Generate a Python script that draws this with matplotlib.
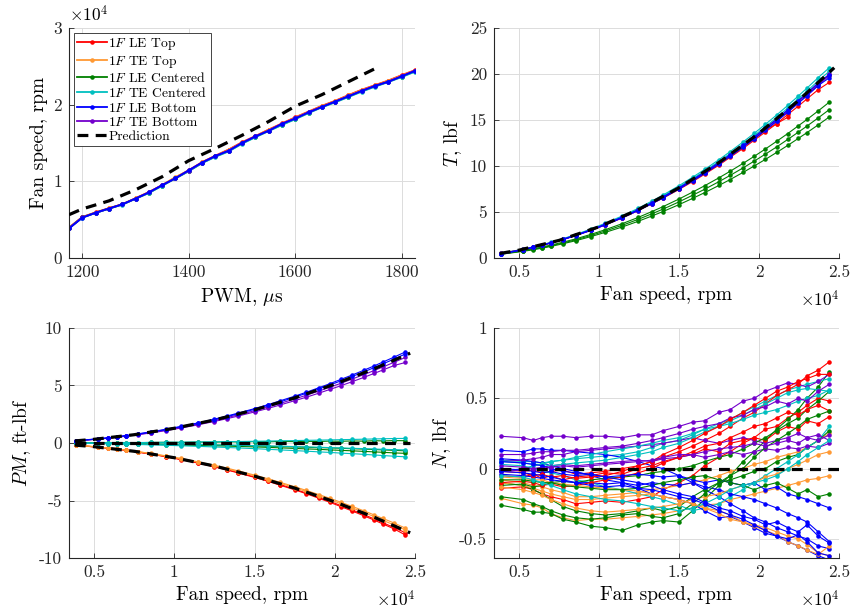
import matplotlib
matplotlib.use("Agg")
import matplotlib.pyplot as plt
from matplotlib.ticker import FuncFormatter

# 字型設定 (Computer Modern)
plt.rcParams['font.family'] = 'cmr10'
plt.rcParams['mathtext.fontset'] = 'cm'
plt.rcParams['axes.unicode_minus'] = False

# 顏色
c_red = '#ff0000'
c_orange = '#ff9933'
c_green = '#008000'
c_cyan = '#00bfbf'
c_blue = '#0000ff'
c_purple = '#7300cc'

names = ['$1F$ LE Top', '$1F$ TE Top', '$1F$ LE Centered',
         '$1F$ TE Centered', '$1F$ LE Bottom', '$1F$ TE Bottom']

# ---- 資料: 轉速 vs PWM ----
pwm = [1175, 1200, 1225, 1250, 1275, 1300, 1325, 1350, 1375, 1400, 1425, 1450, 1475, 1500,
       1525, 1550, 1575, 1600, 1625, 1650, 1675, 1700, 1725, 1750, 1775, 1800, 1825]
spd_le_top = [3950, 5350, 5950, 6500, 7000, 7800, 8600, 9500, 10500, 11450, 12500, 13350, 14150, 15100,
              15900, 16750, 17550, 18350, 19100, 19850, 20500, 21250, 21950, 22550, 23150, 23850, 24500]
spd_te_top = [3980, 5320, 5930, 6480, 7020, 7780, 8580, 9520, 10550, 11400, 12480, 13300, 14100, 15050,
              15850, 16700, 17500, 18300, 19050, 19800, 20450, 21200, 21900, 22500, 23100, 23800, 24450]
spd_le_cen = [3900, 5300, 5900, 6450, 6980, 7750, 8500, 9450, 10400, 11350, 12400, 13250, 13950, 14950,
              15800, 16600, 17400, 18150, 18950, 19700, 20350, 21050, 21750, 22400, 23000, 23650, 24350]
spd_te_cen = [3880, 5280, 5880, 6430, 6960, 7720, 8480, 9420, 10380, 11320, 12380, 13200, 13900, 14900,
              15750, 16550, 17350, 18100, 18900, 19650, 20300, 21000, 21700, 22350, 22950, 23600, 24300]
spd_le_bot = [3850, 5250, 5900, 6450, 7000, 7750, 8550, 9500, 10400, 11450, 12450, 13300, 14000, 15000,
              15850, 16600, 17500, 18200, 19000, 19700, 20400, 21100, 21800, 22450, 23000, 23700, 24400]
spd_te_bot = [3900, 5300, 5900, 6450, 7000, 7750, 8550, 9500, 10400, 11400, 12450, 13300, 14000, 15000,
              15850, 16600, 17500, 18200, 19000, 19700, 20400, 21100, 21800, 22450, 23000, 23700, 24450]
pwm_pred = [1175, 1200, 1250, 1300, 1350, 1400, 1450, 1500, 1550, 1600, 1650, 1700, 1750]
spd_pred = [5650, 6400, 7450, 8900, 10600, 12700, 14300, 16000, 17800, 19800, 21300, 23000, 24700]

# ---- 其他圖共用的轉速 ----
rpm = [3850, 5250, 5900, 6450, 7000, 7750, 8550, 9500, 10400, 11450, 12450, 13300, 14000, 15000,
       15850, 16600, 17500, 18200, 19000, 19700, 20400, 21100, 21800, 22450, 23000, 23700, 24400]
rpm_pred = [3800, 5000, 7500, 10000, 12500, 15000, 17500, 20000, 22500, 24700]

# 推力 T
T_red = [[0.45, 0.9, 1.15, 1.4, 1.62, 2.0, 2.45, 3.0, 3.6, 4.35, 5.15, 5.9, 6.5, 7.45, 8.3, 9.1, 10.1,
          10.95, 11.9, 12.8, 13.7, 14.6, 15.6, 16.5, 17.3, 18.3, 19.1],
         [0.5, 0.92, 1.17, 1.4, 1.65, 2.02, 2.46, 3.04, 3.64, 4.4, 5.2, 5.95, 6.58, 7.55, 8.42, 9.2, 10.2,
          11.05, 12.05, 12.95, 13.9, 14.6, 15.3]]
T_orange = [[0.48, 0.93, 1.2, 1.43, 1.68, 2.06, 2.5, 3.1, 3.7, 4.48, 5.3, 6.05, 6.7, 7.7, 8.6, 9.42, 10.45,
             11.3, 12.3, 13.2, 14.15, 15.1, 16.1, 17.05, 17.9, 19.0, 20.0],
            [0.5, 0.95, 1.2, 1.42, 1.67, 2.05, 2.49, 3.07, 3.68, 4.45, 5.27, 6.02, 6.66, 7.66, 8.55, 9.37, 10.4,
             11.25, 12.27, 13.18, 14.1, 15.05, 16.05, 17.0, 17.85, 18.9, 19.8]]
T_green = [[0.45, 0.8, 1.0, 1.2, 1.4, 1.72, 2.08, 2.57, 3.08, 3.73, 4.41, 5.04, 5.58, 6.41, 7.16, 7.85, 8.72,
            9.43, 10.28, 11.05, 11.85, 12.68, 13.53, 14.36, 15.06, 15.99, 16.95],
           [0.42, 0.76, 0.95, 1.13, 1.33, 1.63, 1.98, 2.45, 2.94, 3.55, 4.2, 4.8, 5.31, 6.1, 6.82, 7.47, 8.3,
            8.98, 9.79, 10.53, 11.29, 12.07, 12.89, 13.67, 14.34, 15.23, 16.14],
           [0.4, 0.72, 0.9, 1.07, 1.26, 1.55, 1.88, 2.33, 2.79, 3.37, 3.99, 4.56, 5.05, 5.8, 6.48, 7.1, 7.89,
            8.53, 9.3, 10.0, 10.72, 11.47, 12.24, 12.99, 13.63, 14.47, 15.34]]
T_cyan = [[0.5, 0.95, 1.22, 1.45, 1.7, 2.1, 2.55, 3.15, 3.78, 4.57, 5.4, 6.18, 6.84, 7.86, 8.78, 9.62, 10.69,
           11.57, 12.61, 13.55, 14.53, 15.54, 16.59, 17.6, 18.47, 19.61, 20.7],
          [0.48, 0.93, 1.19, 1.42, 1.68, 2.06, 2.51, 3.09, 3.71, 4.49, 5.31, 6.07, 6.72, 7.72, 8.62, 9.45, 10.5,
           11.36, 12.38, 13.31, 14.27, 15.26, 16.3, 17.29, 18.14, 19.26, 20.3]]
T_blue = [[0.45, 0.92, 1.18, 1.4, 1.66, 2.04, 2.48, 3.06, 3.67, 4.44, 5.25, 6.0, 6.64, 7.63, 8.52, 9.34, 10.38,
           11.23, 12.24, 13.16, 14.11, 15.09, 16.11, 17.09, 17.93, 19.04, 19.9],
          [0.4, 0.9, 1.15, 1.38, 1.63, 2.0, 2.44, 3.0, 3.6, 4.36, 5.16, 5.9, 6.53, 7.5, 8.38, 9.19, 10.21,
           11.05, 12.04, 12.95, 13.88, 14.85, 15.85, 16.82, 17.65, 18.74, 19.6]]
T_purple = [[0.47, 0.91, 1.16, 1.39, 1.64, 2.01, 2.45, 3.02, 3.62, 4.38, 5.18, 5.92, 6.55, 7.53, 8.4, 9.2, 10.22,
             11.06, 12.05, 12.96, 13.9, 14.86, 15.87, 16.83, 17.66, 18.75, 19.85],
            [0.49, 0.93, 1.18, 1.41, 1.66, 2.03, 2.47, 3.05, 3.65, 4.42, 5.22, 5.97, 6.6, 7.58, 8.47, 9.28, 10.32,
             11.16, 12.16, 13.08, 14.02, 15.0, 16.01, 16.98, 17.82, 18.92, 20.0]]
T_pred = [0.49, 0.85, 1.91, 3.39, 5.3, 7.63, 10.38, 13.56, 17.16, 20.68]

# 俯仰力矩 PM
PM_red = [[-0.2, -0.37, -0.46, -0.55, -0.65, -0.8, -0.97, -1.2, -1.44, -1.74, -2.06, -2.35, -2.61, -2.99,
           -3.34, -3.67, -4.07, -4.4, -4.8, -5.16, -5.54, -5.92, -6.32, -6.7, -7.04, -7.47, -8.0],
          [-0.19, -0.36, -0.45, -0.54, -0.64, -0.79, -0.96, -1.18, -1.42, -1.72, -2.03, -2.32, -2.57, -2.95,
           -3.29, -3.61, -4.01, -4.34, -4.73, -5.08, -5.45, -5.83, -6.22, -6.6, -6.93, -7.36, -7.8]]
PM_orange = [[-0.19, -0.35, -0.44, -0.53, -0.62, -0.76, -0.93, -1.15, -1.37, -1.66, -1.97, -2.25, -2.49, -2.86,
              -3.19, -3.5, -3.89, -4.21, -4.58, -4.93, -5.29, -5.65, -6.03, -6.4, -6.72, -7.13, -7.56],
             [-0.18, -0.34, -0.43, -0.52, -0.61, -0.75, -0.91, -1.12, -1.34, -1.63, -1.92, -2.19, -2.43, -2.79,
              -3.11, -3.42, -3.8, -4.11, -4.48, -4.81, -5.16, -5.52, -5.89, -6.25, -6.56, -6.96, -7.4]]
PM_green = [[0.0, 0.02, 0.03, 0.02, 0.04, 0.03, 0.05, 0.06, 0.05, 0.08, 0.07, 0.1, 0.09, 0.12, 0.1, 0.14,
             0.12, 0.15, 0.13, 0.17, 0.15, 0.18, 0.16, 0.2, 0.18, 0.21, 0.2],
            [0.0, -0.02, -0.03, -0.04, -0.05, -0.07, -0.08, -0.1, -0.12, -0.15, -0.17, -0.2, -0.22, -0.25,
             -0.28, -0.31, -0.34, -0.37, -0.4, -0.43, -0.46, -0.5, -0.53, -0.57, -0.6, -0.64, -0.68],
            [-0.02, -0.04, -0.05, -0.06, -0.08, -0.1, -0.12, -0.15, -0.18, -0.21, -0.24, -0.27, -0.3, -0.34,
             -0.38, -0.42, -0.47, -0.51, -0.55, -0.6, -0.64, -0.68, -0.73, -0.77, -0.81, -0.86, -0.9]]
PM_cyan = [[0.0, -0.04, -0.06, -0.08, -0.1, -0.13, -0.16, -0.2, -0.24, -0.29, -0.34, -0.39, -0.43, -0.49,
            -0.55, -0.6, -0.66, -0.71, -0.77, -0.82, -0.88, -0.93, -0.99, -1.04, -1.09, -1.15, -1.2],
           [0.0, 0.01, 0.02, 0.02, 0.03, 0.04, 0.05, 0.06, 0.07, 0.09, 0.1, 0.12, 0.13, 0.15, 0.17, 0.19,
            0.21, 0.23, 0.25, 0.27, 0.29, 0.31, 0.33, 0.35, 0.37, 0.39, 0.4],
           [-0.03, -0.03, -0.04, -0.05, -0.06, -0.07, -0.09, -0.1, -0.12, -0.14, -0.16, -0.18, -0.2, -0.23,
            -0.25, -0.28, -0.31, -0.34, -0.37, -0.4, -0.43, -0.46, -0.49, -0.52, -0.55, -0.58, -0.6]]
PM_blue = [[0.2, 0.37, 0.46, 0.55, 0.65, 0.8, 0.97, 1.2, 1.44, 1.74, 2.06, 2.35, 2.61, 2.99, 3.34, 3.67,
            4.07, 4.4, 4.8, 5.16, 5.54, 5.92, 6.32, 6.7, 7.04, 7.47, 7.92],
           [0.19, 0.36, 0.45, 0.54, 0.64, 0.78, 0.95, 1.17, 1.41, 1.7, 2.02, 2.3, 2.55, 2.93, 3.27, 3.58,
            3.98, 4.31, 4.69, 5.05, 5.41, 5.79, 6.18, 6.55, 6.88, 7.3, 7.74]]
PM_purple = [[0.18, 0.35, 0.43, 0.52, 0.61, 0.75, 0.91, 1.13, 1.35, 1.64, 1.94, 2.21, 2.45, 2.81, 3.14, 3.45,
              3.83, 4.14, 4.51, 4.85, 5.2, 5.57, 5.94, 6.3, 6.61, 7.02, 7.44],
             [0.17, 0.33, 0.42, 0.5, 0.59, 0.72, 0.88, 1.08, 1.3, 1.57, 1.86, 2.12, 2.35, 2.7, 3.01, 3.31,
              3.68, 3.97, 4.33, 4.66, 4.99, 5.34, 5.7, 6.05, 6.35, 6.74, 7.0]]
PM_pred_pos = [0.18, 0.32, 0.72, 1.28, 2.0, 2.88, 3.92, 5.12, 6.48, 7.81]
PM_pred_zero = [0, 0, 0, 0, 0, 0, 0, 0, 0, 0]
PM_pred_neg = [-0.18, -0.32, -0.72, -1.28, -2.0, -2.88, -3.92, -5.12, -6.48, -7.81]

# 法向力 N
N_red = [[-0.14, -0.13, -0.15, -0.18, -0.2, -0.22, -0.25, -0.24, -0.23, -0.24, -0.22, -0.2, -0.15, -0.1,
          -0.05, 0.02, 0.08, 0.12, 0.18, 0.22, 0.28, 0.3, 0.36, 0.4, 0.45, 0.5, 0.48],
         [0.0, -0.02, -0.01, -0.03, -0.02, -0.01, -0.04, -0.03, -0.02, 0.0, 0.02, 0.05, 0.08, 0.12, 0.16,
          0.2, 0.25, 0.3, 0.36, 0.4, 0.46, 0.52, 0.56, 0.6, 0.66, 0.7, 0.76],
         [-0.05, -0.06, -0.04, -0.07, -0.05, -0.08, -0.06, -0.05, -0.03, -0.04, 0.0, 0.02, 0.05, 0.08, 0.1,
          0.14, 0.12, 0.18, 0.2, 0.22, 0.2, 0.26, 0.3, 0.28, 0.34, 0.32, 0.37],
         [-0.1, -0.09, -0.1, -0.12, -0.11, -0.13, -0.12, -0.1, -0.08, -0.06, -0.03, 0.0, 0.04, 0.08, 0.12,
          0.16, 0.18, 0.22, 0.26, 0.3, 0.32, 0.36, 0.4, 0.38, 0.42, 0.45, 0.41],
         [-0.02, -0.03, -0.05, -0.04, -0.06, -0.05, -0.07, -0.06, -0.05, -0.02, 0.02, 0.05, 0.1, 0.15, 0.2,
          0.25, 0.3, 0.35, 0.4, 0.45, 0.5, 0.55, 0.58, 0.62, 0.64, 0.67, 0.67]]
N_orange = [[-0.21, -0.25, -0.26, -0.28, -0.32, -0.35, -0.37, -0.36, -0.36, -0.35, -0.34, -0.33, -0.32, -0.3,
             -0.28, -0.26, -0.25, -0.22, -0.2, -0.18, -0.16, -0.14, -0.12, -0.1, -0.08, -0.07, -0.05],
            [-0.08, -0.1, -0.12, -0.13, -0.15, -0.17, -0.2, -0.2, -0.19, -0.18, -0.17, -0.15, -0.14, -0.12,
             -0.1, -0.08, -0.05, -0.02, 0.0, 0.03, 0.05, 0.08, 0.1, 0.12, 0.15, 0.2, 0.25],
            [-0.1, -0.12, -0.14, -0.16, -0.18, -0.2, -0.22, -0.22, -0.21, -0.2, -0.19, -0.18, -0.2, -0.22,
             -0.25, -0.28, -0.3, -0.33, -0.38, -0.41, -0.44, -0.47, -0.52, -0.55, -0.58, -0.61, -0.55],
            [-0.13, -0.15, -0.17, -0.19, -0.22, -0.25, -0.28, -0.3, -0.31, -0.3, -0.29, -0.28, -0.27, -0.25,
             -0.22, -0.2, -0.18, -0.15, -0.12, -0.1, -0.06, -0.04, 0.0, 0.03, 0.06, 0.1, 0.12],
            [-0.06, -0.07, -0.08, -0.08, -0.1, -0.11, -0.12, -0.13, -0.14, -0.15, -0.16, -0.18, -0.2, -0.22,
             -0.25, -0.28, -0.32, -0.36, -0.38, -0.4, -0.42, -0.45, -0.48, -0.5, -0.54, -0.6, -0.62]]
N_green = [[-0.26, -0.29, -0.31, -0.31, -0.32, -0.36, -0.38, -0.41, -0.42, -0.44, -0.4, -0.38, -0.37, -0.38,
            -0.3, -0.22, -0.12, -0.05, 0.05, 0.12, 0.2, 0.28, 0.35, 0.42, 0.5, 0.58, 0.69],
           [-0.1, -0.12, -0.15, -0.18, -0.22, -0.27, -0.3, -0.32, -0.33, -0.32, -0.3, -0.28, -0.3, -0.27,
            -0.2, -0.15, -0.1, -0.08, -0.05, -0.02, 0.0, 0.05, 0.08, 0.1, 0.15, 0.2, 0.27],
           [-0.12, -0.11, -0.13, -0.12, -0.1, -0.09, -0.1, -0.08, -0.07, -0.06, -0.05, -0.03, -0.02, 0.0,
            0.02, 0.05, 0.08, 0.1, 0.14, 0.18, 0.22, 0.27, 0.32, 0.36, 0.42, 0.48, 0.55],
           [-0.2, -0.22, -0.25, -0.27, -0.3, -0.33, -0.35, -0.36, -0.35, -0.33, -0.32, -0.34, -0.35, -0.32,
            -0.25, -0.18, -0.1, -0.05, 0.0, 0.08, 0.15, 0.2, 0.25, 0.3, 0.35, 0.38, 0.41],
           [-0.08, -0.08, -0.09, -0.1, -0.1, -0.12, -0.13, -0.14, -0.15, -0.15, -0.14, -0.12, -0.1, -0.08,
            -0.06, -0.05, -0.08, -0.1, -0.12, -0.15, -0.12, -0.1, -0.14, -0.18, -0.15, -0.2, -0.18]]
N_cyan = [[0.06, 0.05, 0.05, 0.04, 0.05, 0.06, 0.07, 0.08, 0.09, 0.1, 0.12, 0.15, 0.18, 0.2, 0.24, 0.28,
           0.32, 0.35, 0.4, 0.44, 0.48, 0.52, 0.56, 0.58, 0.6, 0.62, 0.64],
          [0.03, 0.02, 0.0, -0.02, -0.03, -0.05, -0.08, -0.1, -0.13, -0.15, -0.18, -0.2, -0.22, -0.26, -0.3,
           -0.28, -0.25, -0.2, -0.15, -0.1, -0.05, 0.0, 0.05, 0.1, 0.15, 0.2, 0.3],
          [-0.02, 0.0, 0.02, 0.03, 0.05, 0.06, 0.08, 0.1, 0.12, 0.14, 0.16, 0.18, 0.2, 0.22, 0.25, 0.28,
           0.3, 0.32, 0.35, 0.38, 0.4, 0.42, 0.45, 0.48, 0.5, 0.52, 0.56],
          [0.05, 0.04, 0.03, 0.03, 0.02, 0.03, 0.04, 0.05, 0.06, 0.08, 0.1, 0.12, 0.15, 0.18, 0.22, 0.26,
           0.3, 0.34, 0.38, 0.42, 0.46, 0.5, 0.54, 0.56, 0.57, 0.56, 0.55],
          [-0.05, -0.06, -0.08, -0.1, -0.12, -0.15, -0.18, -0.2, -0.22, -0.23, -0.25, -0.27, -0.28, -0.3,
           -0.28, -0.25, -0.2, -0.15, -0.12, -0.1, -0.08, -0.05, 0.0, 0.05, 0.1, 0.15, 0.2]]
N_blue = [[0.13, 0.12, 0.14, 0.14, 0.13, 0.13, 0.12, 0.11, 0.1, 0.08, 0.05, 0.02, 0.0, -0.05, -0.1, -0.15,
           -0.2, -0.25, -0.3, -0.35, -0.38, -0.42, -0.45, -0.48, -0.5, -0.55, -0.57],
          [0.07, 0.06, 0.05, 0.04, 0.02, 0.0, -0.02, -0.05, -0.08, -0.1, -0.14, -0.18, -0.2, -0.22, -0.25,
           -0.3, -0.35, -0.34, -0.38, -0.42, -0.46, -0.48, -0.52, -0.55, -0.58, -0.62, -0.65],
          [-0.04, -0.05, -0.06, -0.07, -0.08, -0.09, -0.1, -0.1, -0.11, -0.1, -0.12, -0.1, -0.11, -0.12,
           -0.1, -0.13, -0.15, -0.18, -0.2, -0.22, -0.25, -0.28, -0.32, -0.35, -0.38, -0.45, -0.52],
          [0.0, -0.01, -0.02, -0.03, -0.02, -0.04, -0.05, -0.04, -0.06, -0.05, -0.04, -0.05, -0.06, -0.05,
           -0.08, -0.1, -0.08, -0.1, -0.12, -0.1, -0.15, -0.13, -0.18, -0.2, -0.22, -0.25, -0.28],
          [0.05, 0.04, 0.03, 0.02, 0.0, -0.02, -0.03, -0.04, -0.06, -0.08, -0.1, -0.12, -0.15, -0.18, -0.2,
           -0.24, -0.28, -0.3, -0.34, -0.36, -0.4, -0.38, -0.42, -0.45, -0.4, -0.48, -0.53],
          [-0.02, -0.03, -0.04, -0.05, -0.06, -0.08, -0.1, -0.12, -0.13, -0.12, -0.14, -0.15, -0.17, -0.2,
           -0.22, -0.25, -0.3, -0.33, -0.36, -0.4, -0.44, -0.48, -0.5, -0.47, -0.52, -0.6, -0.62]]
N_purple = [[0.23, 0.22, 0.2, 0.22, 0.23, 0.23, 0.22, 0.23, 0.23, 0.22, 0.24, 0.24, 0.27, 0.3, 0.33, 0.34,
             0.4, 0.42, 0.48, 0.5, 0.55, 0.58, 0.61, 0.6, 0.58, 0.62, 0.67],
            [0.05, 0.06, 0.07, 0.08, 0.1, 0.1, 0.12, 0.13, 0.14, 0.15, 0.16, 0.17, 0.18, 0.2, 0.22, 0.2,
             0.18, 0.2, 0.22, 0.2, 0.18, 0.2, 0.22, 0.25, 0.22, 0.24, 0.2],
            [0.02, 0.01, 0.0, 0.01, 0.02, 0.03, 0.02, 0.03, 0.04, 0.05, 0.06, 0.05, 0.07, 0.08, 0.1, 0.08,
             0.1, 0.12, 0.1, 0.12, 0.14, 0.13, 0.15, 0.14, 0.16, 0.15, 0.18],
            [0.1, 0.1, 0.11, 0.12, 0.12, 0.13, 0.13, 0.14, 0.15, 0.16, 0.18, 0.2, 0.22, 0.25, 0.28, 0.3,
             0.32, 0.36, 0.38, 0.42, 0.44, 0.48, 0.46, 0.5, 0.48, 0.55, 0.6],
            [-0.02, -0.01, 0.0, 0.0, 0.01, 0.02, 0.01, 0.02, 0.03, 0.04, 0.05, 0.06, 0.08, 0.1, 0.1, 0.12,
             0.14, 0.15, 0.16, 0.18, 0.16, 0.18, 0.2, 0.18, 0.22, 0.2, 0.24]]
N_pred = [0, 0]
rpm_N_pred = [3800, 25000]

colors = [c_red, c_orange, c_green, c_cyan, c_blue, c_purple]
draw_order = [0, 1, 2, 3, 5, 4]

lw = 0.8
ms = 4.5
pred_kw = dict(color='black', linewidth=2.3, dashes=[3.4, 2.3], zorder=10)
fmt_g = FuncFormatter(lambda v, p: '%g' % v)
fmt_e4 = FuncFormatter(lambda v, p: '%g' % (v / 1e4))


def style_axes(ax):
    # MATLAB 風格: 無上右框, 刻度朝內, 淺灰格線
    ax.spines['top'].set_visible(False)
    ax.spines['right'].set_visible(False)
    for s in ['left', 'bottom']:
        ax.spines[s].set_color('#262626')
        ax.spines[s].set_linewidth(0.8)
    ax.tick_params(direction='in', length=3.5, width=0.6, colors='#262626', labelsize=12.5, pad=5)
    ax.grid(True, color='#dcdcdc', linewidth=0.7)
    ax.set_axisbelow(True)


def plot_runs(ax, runs, col):
    for y in runs:
        ax.plot(rpm[:len(y)], y, '.-', color=col, linewidth=lw, markersize=ms)


fig = plt.figure(figsize=(8.53, 6.14), dpi=100)
ax1 = fig.add_axes([0.0809, 0.5798, 0.4056, 0.3746])
ax2 = fig.add_axes([0.5791, 0.5798, 0.4045, 0.3746])
ax3 = fig.add_axes([0.0809, 0.0912, 0.4056, 0.3746])
ax4 = fig.add_axes([0.5791, 0.0912, 0.4045, 0.3746])

# 圖1: 轉速 vs PWM
speeds = [spd_le_top, spd_te_top, spd_le_cen, spd_te_cen, spd_le_bot, spd_te_bot]
handles = [None] * 6
for i in draw_order:
    handles[i], = ax1.plot(pwm, speeds[i], '.-', color=colors[i], linewidth=1.3, markersize=ms, label=names[i])
hp, = ax1.plot(pwm_pred, spd_pred, label='Prediction', **pred_kw)
ax1.set_xlim(1175, 1825)
ax1.set_ylim(0, 30000)
ax1.set_xticks([1200, 1400, 1600, 1800])
ax1.set_yticks([0, 10000, 20000, 30000])
ax1.xaxis.set_major_formatter(fmt_g)
ax1.yaxis.set_major_formatter(fmt_e4)
ax1.set_xlabel(r'PWM, $\mu$s', fontsize=14)
ax1.set_ylabel('Fan speed, rpm', fontsize=14)
ax1.text(0.0, 1.015, r'$\times10^4$', transform=ax1.transAxes, ha='left', va='bottom', fontsize=12.5)
style_axes(ax1)
leg = ax1.legend(handles + [hp], names + ['Prediction'], loc='upper left', fontsize=9.8,
                 frameon=True, fancybox=False, framealpha=1, edgecolor='#262626',
                 borderaxespad=0.35, labelspacing=0.1, handlelength=2.2, handletextpad=0.1,
                 borderpad=0.25)
leg.get_frame().set_linewidth(0.6)

# 圖2: 推力
T_all = [T_red, T_orange, T_green, T_cyan, T_blue, T_purple]
for i in draw_order:
    plot_runs(ax2, T_all[i], colors[i])
ax2.plot(rpm_pred, T_pred, **pred_kw)
ax2.set_ylim(0, 25)
ax2.set_yticks([0, 5, 10, 15, 20, 25])
ax2.set_ylabel('$T$, lbf', fontsize=14)

# 圖3: 俯仰力矩
PM_all = [PM_red, PM_orange, PM_green, PM_cyan, PM_blue, PM_purple]
for i in draw_order:
    plot_runs(ax3, PM_all[i], colors[i])
ax3.plot(rpm_pred, PM_pred_pos, **pred_kw)
ax3.plot(rpm_pred, PM_pred_zero, **pred_kw)
ax3.plot(rpm_pred, PM_pred_neg, **pred_kw)
ax3.set_ylim(-10, 10)
ax3.set_yticks([-10, -5, 0, 5, 10])
ax3.set_ylabel('$PM$, ft-lbf', fontsize=14)

# 圖4: 法向力 (各組交錯畫)
N_all = [N_red, N_orange, N_green, N_cyan, N_blue, N_purple]
for k in range(6):
    for i in [0, 1, 2, 3, 4, 5]:
        if k < len(N_all[i]):
            ax4.plot(rpm, N_all[i][k], '.-', color=colors[i], linewidth=lw, markersize=ms)
ax4.plot(rpm_N_pred, N_pred, **pred_kw)
ax4.set_ylim(-0.636, 1)
ax4.set_yticks([-0.5, 0, 0.5, 1])
ax4.set_ylabel('$N$, lbf', fontsize=14)

for ax in [ax2, ax3, ax4]:
    ax.set_xlim(3440, 25000)
    ax.set_xticks([5000, 10000, 15000, 20000, 25000])
    ax.xaxis.set_major_formatter(fmt_e4)
    ax.yaxis.set_major_formatter(fmt_g)
    ax.set_xlabel('Fan speed, rpm', fontsize=14)
    ax.text(1.0, -0.135, r'$\times10^4$', transform=ax.transAxes, ha='right', va='top', fontsize=12.5)
    style_axes(ax)

plt.savefig('out.png', dpi=100)
